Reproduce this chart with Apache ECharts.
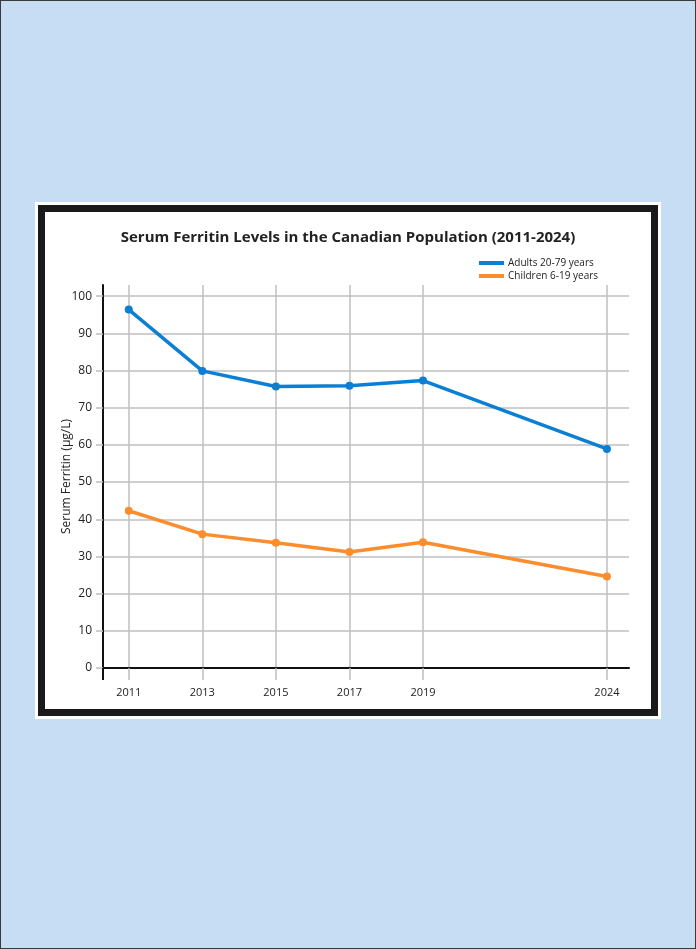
<!DOCTYPE html>
<html>
<head>
<meta charset="utf-8">
<script src="https://cdn.jsdelivr.net/npm/echarts@6/dist/echarts.min.js"></script>
<style>
  html, body { margin: 0; padding: 0; }
  body {
    width: 696px; height: 949px; background: #c6ddf3;
    position: relative; overflow: hidden;
  }
  .frame {
    position: absolute; left: 0; top: 0; width: 694px; height: 947px;
    border: 1px solid #3a3a3a;
  }
  .card {
    position: absolute; left: 35px; top: 202px; width: 626px; height: 517px;
    background: #fff;
  }
  .card .inner {
    position: absolute; left: 3px; top: 3px; right: 3px; bottom: 3px;
    border: 7px solid #1a1a1a; background: #fff;
  }
  #chart { position: absolute; left: 0; top: 0; width: 696px; height: 949px; }
</style>
</head>
<body>
<div class="frame"></div>
<div class="card"><div class="inner"></div></div>
<div id="chart"></div>
<script>
var years = [2011, 2013, 2015, 2017, 2019, 2024]
var adults = [96.4, 79.9, 75.7, 75.9, 77.3, 58.9]
var children = [42.3, 36.0, 33.7, 31.2, 33.8, 24.6]
var yTicks = [0, 10, 20, 30, 40, 50, 60, 70, 80, 90, 100]

var blue = '#0b7fd3'
var orange = '#fb8d2f'
var grey = '#bfbfbf'

function pairs(vals) {
  return years.map(function (y, i) { return [y, vals[i]] })
}

// one colour per y tick, last one (the axis top) hidden
var splitColors = yTicks.map(function () { return grey }).concat(['rgba(0,0,0,0)'])

var chart = echarts.init(document.getElementById('chart'))
chart.setOption({
  backgroundColor: 'transparent',
  textStyle: { fontFamily: 'Open Sans' },
  title: {
    text: 'Serum Ferritin Levels in the Canadian Population (2011-2024)',
    left: 'center',
    top: 225,
    textStyle: { fontFamily: 'Open Sans', fontSize: 15, fontWeight: 'bold', color: '#222' }
  },
  legend: {
    orient: 'vertical',
    left: 479,
    top: 257,
    padding: 0,
    icon: 'rect',
    itemWidth: 25,
    itemHeight: 4,
    itemGap: 1,
    textStyle: { fontFamily: 'Open Sans', fontSize: 10, color: '#222', lineHeight: 12, padding: [0, 0, 0, -1] },
    data: ['Adults 20-79 years', 'Children 6-19 years']
  },
  grid: { left: 103, right: 67, top: 285, bottom: 281, containLabel: false },
  xAxis: [{
    type: 'value',
    min: 2010.3,
    max: 2024.6,
    axisLine: { lineStyle: { color: '#111', width: 2 } },
    axisTick: { customValues: years, length: 12, lineStyle: { color: grey, width: 1.5 } },
    axisLabel: {
      customValues: years, margin: 19, fontSize: 11, color: '#222', fontFamily: 'Open Sans',
      formatter: function (v) { return String(v) }
    },
    splitLine: { show: true, lineStyle: { color: grey, width: 1.5 } }
  }, {
    type: 'value',
    position: 'bottom',
    min: 2010.3,
    max: 2024.6,
    axisLine: { show: false },
    axisTick: { customValues: [2010.3], length: 12, lineStyle: { color: '#111', width: 2 } },
    axisLabel: { show: false },
    splitLine: { show: false }
  }],
  yAxis: {
    type: 'value',
    min: 0,
    max: 103,
    interval: 10,
    name: 'Serum Ferritin (µg/L)',
    nameLocation: 'middle',
    nameRotate: 90,
    nameGap: 30,
    nameMoveOverlap: false,
    nameTextStyle: { fontFamily: 'Open Sans', fontSize: 12, color: '#222' },
    axisLine: { show: true, lineStyle: { color: '#111', width: 2 } },
    axisTick: { show: true, customValues: yTicks, length: 7, lineStyle: { color: grey, width: 1.5 } },
    axisLabel: { customValues: yTicks, margin: 11, fontSize: 12, color: '#222', fontFamily: 'Open Sans' },
    splitLine: { show: true, lineStyle: { color: splitColors, width: 1.5 } }
  },
  series: [{
    name: 'Adults 20-79 years',
    type: 'line',
    data: pairs(adults),
    symbol: 'circle',
    symbolSize: 8,
    lineStyle: { color: blue, width: 3.5 },
    itemStyle: { color: blue },
    z: 3
  }, {
    name: 'Children 6-19 years',
    type: 'line',
    data: pairs(children),
    symbol: 'circle',
    symbolSize: 8,
    lineStyle: { color: orange, width: 3.5 },
    itemStyle: { color: orange },
    z: 3
  }]
})
</script>
</body>
</html>
